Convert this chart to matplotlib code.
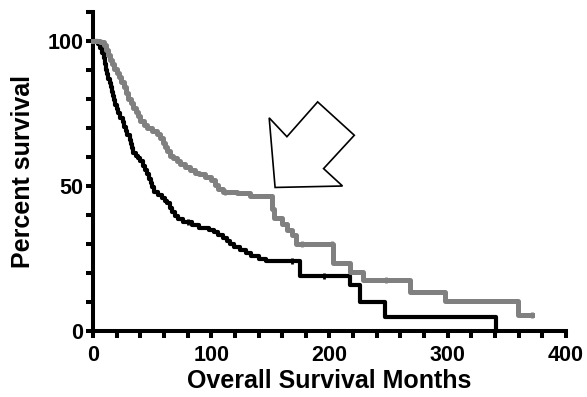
import matplotlib.pyplot as plt
from matplotlib.patches import Polygon
from matplotlib.ticker import MultipleLocator

plt.rcParams['font.family'] = ['Liberation Sans', 'DejaVu Sans']
plt.rcParams['font.weight'] = 'bold'

# Kaplan-Meier steps (months, percent surviving)
black_t = [0, 4, 6, 8, 9, 10, 11, 12, 13, 14, 15, 16, 17, 18, 19, 20, 21, 23, 25, 26,
           28, 29, 31, 32, 33, 34, 36, 38, 40, 42, 44, 46, 47, 49, 50, 52, 55, 58, 61,
           63, 65, 67, 69, 72, 76, 84, 90, 98, 102, 106, 110, 113, 116, 119, 124,
           129, 134, 140, 146, 175, 217, 226, 247, 341]
black_s = [100, 99, 97.5, 96, 94, 92, 90, 88.5, 87, 85.5, 84, 82.5, 81, 79.5, 78, 76.5,
           75, 73.5, 72, 70.5, 69, 67.5, 66, 64.5, 63, 61.5, 60.5, 59.5, 58.5, 57, 55.5,
           54, 52.5, 51, 49.5, 48, 47, 46, 45, 44, 42.5, 41, 39.5, 38.5, 37.5, 36.5,
           35.5, 35, 34, 33, 32, 31, 30, 29, 28, 27, 26, 25, 24, 19, 16, 10, 5, 0]
black_cens_t = [80, 168, 195]
black_cens_s = [37.5, 24, 19]

gray_t = [0, 6, 9, 11, 13, 14, 16, 18, 20, 22, 24, 26, 28, 30, 32, 34, 36, 38, 40, 43,
          46, 50, 54, 57, 59, 61, 63, 65, 68, 71, 74, 78, 82, 86, 90, 95, 100, 103,
          106, 110, 122, 133, 151, 153, 160, 164, 168, 172, 203, 217, 228, 268, 298,
          359, 371]
gray_s = [100, 99.5, 98.5, 97, 95, 93.5, 92, 90.5, 89, 87.5, 86, 84, 82, 80, 78.5, 77,
          75.5, 74, 72.5, 71, 70, 69, 68, 66.5, 65, 63.5, 62, 60.5, 59.5, 58.5, 57.5,
          56.5, 55.5, 54.5, 54, 53, 52, 50.5, 49, 48, 47.5, 46.5, 42, 39, 37, 35, 33,
          30, 23.5, 20.5, 17.5, 13.5, 10.5, 5.5, 5.5]
gray_cens_t = [112, 177, 202, 248, 371]
gray_cens_s = [48, 30, 30, 17.5, 5.5]

# hollow arrow pointing at the gap between the curves
arrow_x = [149, 164, 190, 221, 195, 211, 154]
arrow_y = [73.5, 67, 79, 67.5, 56, 50, 49.5]

fig = plt.figure(figsize=(5.87, 3.97), dpi=100)
ax = fig.add_axes([0.1584, 0.1662, 0.8058, 0.8036])

ax.step(black_t, black_s, where='post', color='black', lw=3.0, clip_on=False, zorder=3)
ax.plot(black_cens_t, black_cens_s, ls='none', marker='|', ms=4, mew=2, color='black',
        clip_on=False, zorder=3)
ax.step(gray_t, gray_s, where='post', color='#808080', lw=3.6, clip_on=False, zorder=4)
ax.plot(gray_cens_t, gray_cens_s, ls='none', marker='|', ms=4, mew=2, color='#808080',
        clip_on=False, zorder=4)

ax.add_patch(Polygon(list(zip(arrow_x, arrow_y)), closed=True, facecolor='white',
                     edgecolor='black', lw=1.2, zorder=5))

ax.set_xlim(0, 400)
ax.set_ylim(0, 110)
ax.xaxis.set_major_locator(MultipleLocator(100))
ax.xaxis.set_minor_locator(MultipleLocator(20))
ax.set_yticks([0, 50, 100])
ax.yaxis.set_minor_locator(MultipleLocator(10))

for s in ['top', 'right']:
    ax.spines[s].set_visible(False)
for s in ['left', 'bottom']:
    ax.spines[s].set_linewidth(2.9)
ax.tick_params(which='both', direction='out', width=2.9, length=5, labelsize=15.5, pad=2)
ax.tick_params(axis='x', pad=5)

ax.set_xlabel('Overall Survival Months', fontsize=18, fontweight='bold', labelpad=2)
ax.set_ylabel('Percent survival', fontsize=18, fontweight='bold', labelpad=9)

fig.savefig('out.png', dpi=100)
